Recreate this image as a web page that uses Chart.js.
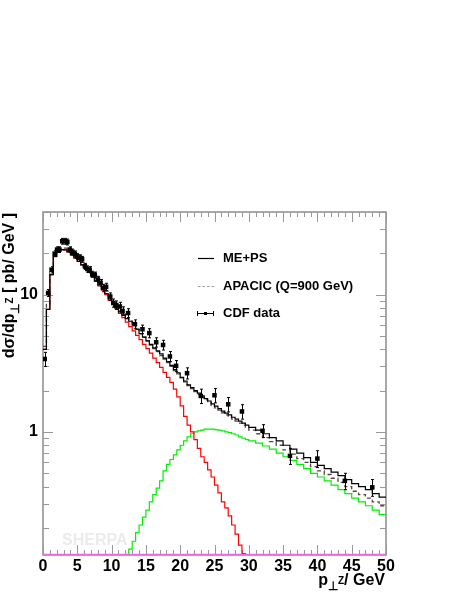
<!DOCTYPE html>
<html>
<head>
<meta charset="utf-8">
<script src="https://cdn.jsdelivr.net/npm/chart.js@4.4.0/dist/chart.umd.min.js"></script>
<style>
    html, body{margin:0; padding:0; background:#fff;}
    #myChartParent{position:relative; width:463px; height:599px;}
</style>
</head>
<body>
<div id="myChartParent"><canvas id="myChart" width="463" height="599"></canvas></div>
<script>
// bin edges in GeV: 0.5 GeV up to 30, 1 GeV above
var binEdges = [0,0.5,1,1.5,2,2.5,3,3.5,4,4.5,5,5.5,6,6.5,7,7.5,8,8.5,9,9.5,
    10,10.5,11,11.5,12,12.5,13,13.5,14,14.5,15,15.5,16,16.5,17,17.5,18,18.5,19,19.5,
    20,20.5,21,21.5,22,22.5,23,23.5,24,24.5,25,25.5,26,26.5,27,27.5,28,28.5,29,29.5,
    30,31,32,33,34,35,36,37,38,39,40,41,42,43,44,45,46,47,48,49,50];

// ME+PS (sum)
var mePs = [4.0,7.8,14,19.0,20.5,21.3,21.2,20.5,19.5,18.5,
    17.5,16.5,15.5,14.5,13.5,12.6,11.8,11.0,10.2,9.3,
    8.6,8.0,7.5,7.1,6.7,6.4,6.0,5.6,5.2,4.9,
    4.6,4.35,4.1,3.9,3.7,3.45,3.25,3.05,2.85,2.7,
    2.5,2.35,2.2,2.1,2.0,1.92,1.83,1.75,1.68,1.6,
    1.54,1.48,1.42,1.37,1.33,1.28,1.24,1.2,1.16,1.12,
    1.08,1.03,0.97,0.91,0.86,0.8,0.75,0.7,0.65,0.6,
    0.57,0.54,0.51,0.48,0.45,0.42,0.4,0.38,0.355,0.335];

// APACIC (Q=900 GeV)
var apacic = [4.2,8.5,14.5,19.5,21,21.8,21.8,21.0,20.0,19.0,
    18.0,17.0,16.0,15.0,14.0,13.1,12.2,11.4,10.6,9.8,
    9.0,8.3,7.7,7.2,6.8,6.4,6.0,5.6,5.2,4.9,
    4.6,4.3,4.05,3.85,3.6,3.4,3.2,3.0,2.8,2.65,
    2.48,2.32,2.18,2.07,1.97,1.88,1.79,1.71,1.64,1.57,
    1.5,1.44,1.38,1.33,1.28,1.24,1.2,1.16,1.12,1.08,
    1.03,0.97,0.91,0.85,0.8,0.74,0.69,0.64,0.6,0.56,
    0.52,0.49,0.46,0.43,0.4,0.37,0.35,0.33,0.31,0.29];

// 0 jet part (red), empty bins below the axis
var zeroJet = [4.0,7.8,14,19,20.5,21.3,21.2,20.5,19.5,18.5,
    17.5,16.5,15.5,14.5,13.5,12.5,11.6,10.8,10.0,9.1,
    8.5,7.9,7.3,6.8,6.3,5.85,5.45,5.05,4.7,4.35,
    4.05,3.75,3.45,3.2,2.95,2.72,2.5,2.3,2.05,1.8,
    1.55,1.3,1.12,1.0,0.88,0.76,0.66,0.6,0.53,0.47,
    0.41,0.36,0.31,0.28,0.245,0.21,0.18,0.15,0.13,0.1,
    0.1,0.1,0.1,0.1,0.1,0.1,0.1,0.1,0.1,0.1,
    0.1,0.1,0.1,0.1,0.1,0.1,0.1,0.1,0.1,0.1];

// 1 jet part (green)
var oneJet = [0.1,0.1,0.1,0.1,0.1,0.1,0.1,0.1,0.1,0.1,
    0.1,0.1,0.1,0.1,0.1,0.1,0.1,0.1,0.1,0.1,
    0.1,0.1,0.1,0.1,0.1,0.14,0.16,0.185,0.21,0.24,
    0.27,0.31,0.35,0.39,0.44,0.52,0.58,0.63,0.68,0.74,
    0.8,0.86,0.92,0.97,1.0,1.02,1.03,1.05,1.05,1.05,
    1.04,1.03,1.02,1.0,0.99,0.97,0.95,0.92,0.9,0.88,
    0.86,0.83,0.79,0.75,0.7,0.66,0.62,0.58,0.54,0.5,
    0.47,0.44,0.41,0.38,0.355,0.33,0.31,0.29,0.27,0.25];

// 2 jet part (magenta), sits on the bottom of the frame
var twoJetEdges = [0, 50];
var twoJet = [0.127];

// CDF data
var cdfX = [0.25,0.75,1.25,1.7,2.05,2.4,2.8,3.2,3.55,3.9,4.3,4.65,5.0,5.35,5.7,6.1,6.45,6.8,7.2,7.55,
    8.0,8.4,8.8,9.2,9.8,10.25,10.7,11.2,11.6,12.4,13.4,14.5,15.5,16.5,17.5,18.5,19.4,
    21,23,25,27,29,32,36,40,44,48];
var cdfY = [3.4,10.3,15.2,19.9,21.3,21.3,24.5,24.5,24.2,21.3,20.5,19.8,19.0,18.6,18.1,16.1,15.4,15.2,14.1,13.9,
    12.9,12.2,11.2,11.4,9.7,8.7,8.4,8.2,7.6,7.35,6.1,5.6,5.25,4.5,4.3,3.55,3.03,
    2.68,1.83,1.85,1.59,1.41,1.02,0.67,0.64,0.44,0.395];
var cdfErr = [0.4,0.6,0.8,1.0,1.0,1.0,1.2,1.2,1.2,1.0,1.0,1.0,0.9,0.9,0.9,0.8,0.8,0.8,0.7,0.7,
    0.7,0.7,0.7,0.7,0.6,0.6,0.6,0.6,0.55,0.55,0.45,0.4,0.4,0.35,0.35,0.3,0.28,
    0.25,0.22,0.22,0.19,0.17,0.11,0.09,0.09,0.06,0.055];

var xTicks = [0,5,10,15,20,25,30,35,40,45,50];
var yLabels = [1, 10];

var FONT = '"Liberation Sans", Arial, Helvetica, sans-serif';

function histPoints(edges, vals) {
    var pts = [];
    for (var i = 0; i < vals.length; i++) pts.push({x: edges[i], y: vals[i]});
    pts.push({x: edges[vals.length], y: vals[vals.length - 1]});
    return pts;
}

var cdfPoints = [];
for (var i = 0; i < cdfX.length; i++) cdfPoints.push({x: cdfX[i], y: cdfY[i]});

// draw text pieces along a baseline, right aligned at x
function drawParts(c, parts, x, y) {
    var w = 0;
    parts.forEach(function(p){ c.font = 'bold ' + p.size + 'px ' + FONT; w += c.measureText(p.t).width; });
    var cx = x - w;
    parts.forEach(function(p){
        c.font = 'bold ' + p.size + 'px ' + FONT;
        c.fillText(p.t, cx, y + (p.dy || 0));
        cx += c.measureText(p.t).width;
    });
}

var rootStyle = {
    id: 'rootStyle',
    beforeDatasetsDraw: function(chart) {
        var c = chart.ctx, a = chart.chartArea;
        var xs = chart.scales.x, ys = chart.scales.y;
        c.save();
        // watermark
        c.fillStyle = '#ebebeb';
        c.font = 'bold 16px ' + FONT;
        c.textBaseline = 'alphabetic';
        c.fillText('SHERPA', 62, 545);
        // frame
        c.strokeStyle = '#8c8c8c';
        c.lineWidth = 1.5;
        c.strokeRect(a.left, a.top, a.right - a.left, a.bottom - a.top);
        // ticks, inside the frame
        c.lineWidth = 1;
        c.strokeStyle = '#999';
        c.beginPath();
        for (var v = 0; v <= 50; v++) {
            var px = Math.round(xs.getPixelForValue(v)) + 0.5;
            var len = (v % 5 === 0) ? 10 : 5;
            c.moveTo(px, a.bottom); c.lineTo(px, a.bottom - len);
            c.moveTo(px, a.top); c.lineTo(px, a.top + len);
        }
        ys.ticks.forEach(function(t) {
            var val = t.value;
            var m = val / Math.pow(10, Math.floor(Math.log10(val) + 1e-9));
            if (Math.abs(m - Math.round(m)) > 1e-6) return;
            var py = Math.round(ys.getPixelForValue(val)) + 0.5;
            var len = (Math.abs(m - 1) < 1e-6) ? 10 : 6;
            c.moveTo(a.left, py); c.lineTo(a.left + len, py);
            c.moveTo(a.right, py); c.lineTo(a.right - len, py);
        });
        c.stroke();
        c.restore();
    },
    afterDatasetsDraw: function(chart) {
        var c = chart.ctx;
        var xs = chart.scales.x, ys = chart.scales.y;
        c.save();
        c.strokeStyle = '#000';
        c.lineWidth = 1;
        c.beginPath();
        for (var i = 0; i < cdfX.length; i++) {
            var px = Math.round(xs.getPixelForValue(cdfX[i])) + 0.5;
            var y1 = ys.getPixelForValue(cdfY[i] + cdfErr[i]);
            var y2 = ys.getPixelForValue(cdfY[i] - cdfErr[i]);
            c.moveTo(px, y1); c.lineTo(px, y2);
            c.moveTo(px - 1.5, y1); c.lineTo(px + 1.5, y1);
            c.moveTo(px - 1.5, y2); c.lineTo(px + 1.5, y2);
        }
        c.stroke();
        c.restore();
    },
    afterDraw: function(chart) {
        var c = chart.ctx;
        c.save();
        c.fillStyle = '#000';
        c.textBaseline = 'alphabetic';
        // x title
        drawParts(c, [
            {t: 'p', size: 16},
            {t: '\u22A5', size: 12, dy: 5},
            {t: 'Z', size: 10, dy: -1},
            {t: '/ GeV', size: 16}
        ], 385, 585);
        // y title
        c.translate(14, 213);
        c.rotate(-Math.PI / 2);
        drawParts(c, [
            {t: 'd\u03C3/dp', size: 16},
            {t: '\u22A5', size: 12, dy: 5},
            {t: 'Z', size: 10, dy: -1},
            {t: ' [ pb/ GeV ]', size: 16}
        ], 0, 0);
        c.restore();

        // legend
        var ds = chart.data.datasets;
        c.save();
        c.font = 'bold 13px ' + FONT;
        c.fillStyle = '#000';
        c.textBaseline = 'middle';
        c.lineWidth = 1.2;
        // ME+PS
        c.strokeStyle = '#000';
        c.beginPath(); c.moveTo(198, 258.5); c.lineTo(214, 258.5); c.stroke();
        c.fillText(ds[0].label, 223, 258);
        // APACIC
        c.strokeStyle = '#999';
        c.setLineDash([2.5, 2]);
        c.beginPath(); c.moveTo(198, 286.5); c.lineTo(214, 286.5); c.stroke();
        c.setLineDash([]);
        c.fillText(ds[1].label, 223, 286);
        // CDF data
        c.strokeStyle = '#000';
        c.lineWidth = 1;
        c.beginPath();
        c.moveTo(197, 313.5); c.lineTo(214, 313.5);
        c.moveTo(197.5, 311); c.lineTo(197.5, 316);
        c.moveTo(213.5, 311); c.lineTo(213.5, 316);
        c.stroke();
        c.fillRect(204, 312, 3, 3);
        c.fillText(ds[5].label, 223, 313);
        c.restore();
    }
};

var ctx = document.getElementById('myChart').getContext('2d');
var myChart = new Chart(ctx, {
    type: 'line',
    data: {
        datasets: [
            {label: 'ME+PS', data: histPoints(binEdges, mePs), borderColor: '#000', borderWidth: 1.2,
                stepped: 'before', pointRadius: 0, fill: false, order: 2},
            {label: 'APACIC (Q=900 GeV)', data: histPoints(binEdges, apacic), borderColor: '#5a4646', borderWidth: 1.3,
                borderDash: [4, 3], stepped: 'before', pointRadius: 0, fill: false, order: 3},
            {label: '0 jet', data: histPoints(binEdges, zeroJet), borderColor: '#ff0000', borderWidth: 1.2,
                stepped: 'before', pointRadius: 0, fill: false, order: 4},
            {label: '1 jet', data: histPoints(binEdges, oneJet), borderColor: '#00f000', borderWidth: 1.2,
                stepped: 'before', pointRadius: 0, fill: false, order: 5},
            {label: '2 jet', data: histPoints(twoJetEdges, twoJet), borderColor: '#ee66ee', borderWidth: 2.5,
                stepped: 'before', pointRadius: 0, fill: false, order: 1},
            {type: 'scatter', label: 'CDF data', data: cdfPoints, pointStyle: 'rect', pointRadius: 3.2,
                backgroundColor: '#000', borderWidth: 0, order: 0}
        ]
    },
    options: {
        responsive: false,
        animation: false,
        events: [],
        layout: {padding: {top: 212, right: 77, left: 0, bottom: 0}},
        plugins: {legend: {display: false}, tooltip: {enabled: false}},
        scales: {
            x: {
                type: 'linear', min: 0, max: 50,
                afterBuildTicks: function(s){ s.ticks = xTicks.map(function(v){ return {value: v}; }); },
                ticks: {color: '#000', padding: 2, maxRotation: 0, autoSkip: false,
                    font: {family: FONT, size: 16, weight: 'bold'}},
                grid: {display: false, drawTicks: false, tickLength: 0},
                border: {display: false},
                afterFit: function(s){ s.height = 44; }
            },
            y: {
                type: 'logarithmic', min: 0.127, max: 40,
                ticks: {color: '#000', padding: 5, autoSkip: false,
                    font: {family: FONT, size: 16, weight: 'bold'},
                    callback: function(v){ return yLabels.indexOf(v) >= 0 ? String(v) : ''; }},
                grid: {display: false, drawTicks: false, tickLength: 0},
                border: {display: false},
                afterFit: function(s){ s.width = 43; }
            }
        }
    },
    plugins: [rootStyle]
});
</script>
</body>
</html>
